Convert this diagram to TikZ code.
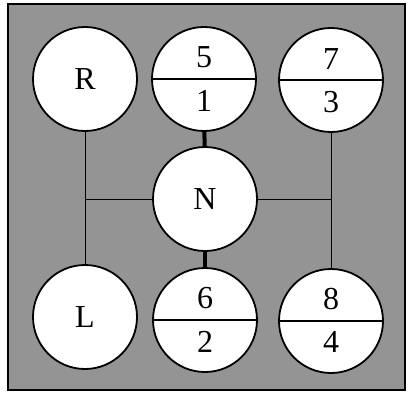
\documentclass[tikz,border=0pt]{standalone}
\usepackage{fontspec}
\setmainfont{Liberation Serif}
\usetikzlibrary{positioning,shapes.multipart}
\colorlet{colFondo}{black!42}

\begin{document}
\begin{tikzpicture}[
        x=1pt, y=-1pt,
        gear/.style={circle, draw, line width=1.8pt, fill=white, minimum size=104pt, inner sep=0pt, font=\fontsize{32}{36}\selectfont},
        split/.style={circle split, draw, line width=1.8pt, fill=white, minimum size=104pt, inner sep=10pt, font=\fontsize{32}{36}\selectfont},
        rail/.style={line width=1pt},
        stem/.style={line width=4pt}
    ]
        \useasboundingbox (0,0) rectangle (409,393);
        % --- Fondo ---
        \draw[line width=1.8pt, fill=colFondo] (8,4) rectangle (405,390);

        % Marchas
        \node[gear] (R) at (85,79) {R};
        \node[split] (g51) at (204,79) {5 \nodepart{lower} 1};
        \node[split] (g73) at (331,80) {7 \nodepart{lower} 3};
        \node[gear] (N) at (205,199) {N};
        \node[gear] (L) at (85,317) {L};
        \node[split] (g62) at (205,320) {6 \nodepart{lower} 2};
        \node[split] (g84) at (331,321) {8 \nodepart{lower} 4};

        % Conexiones
        \draw[rail] (R) -- (L);
        \draw[rail] (N.west) -- (N.west -| R);
        \draw[rail] (g73) -- (g84);
        \draw[rail] (N.east) -- (N.east -| g73);
        \draw[stem] (g51) -- (N);
        \draw[stem] (N) -- (g62);
    \end{tikzpicture}
\end{document}
